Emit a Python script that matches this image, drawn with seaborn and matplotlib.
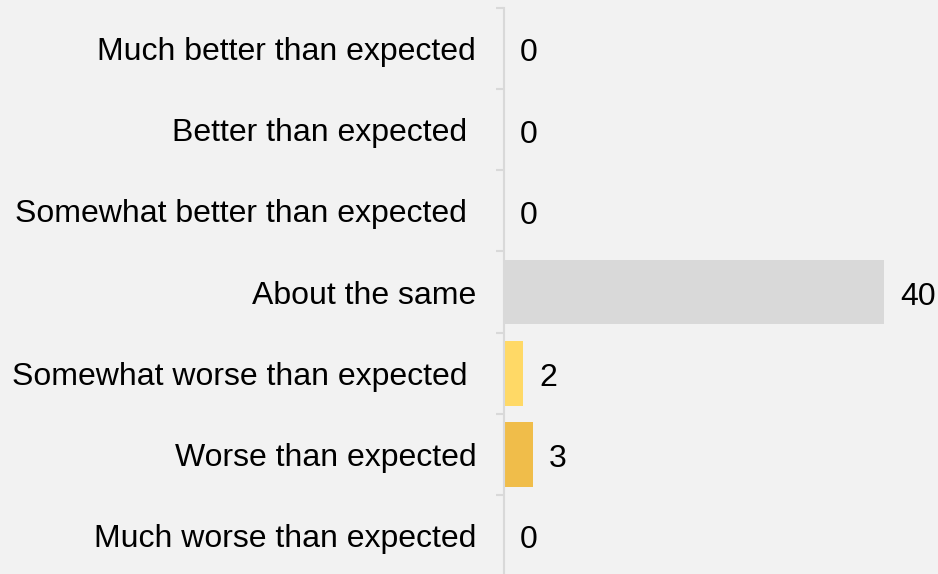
import numpy as np
import pandas as pd
import matplotlib
matplotlib.use('Agg')
import matplotlib.pyplot as plt
import seaborn as sns

# categories (trailing spaces kept as in the original labels)
categories = ['Much better than expected', 'Better than expected ',
              'Somewhat better than expected ', 'About the same',
              'Somewhat worse than expected ', 'Worse than expected',
              'Much worse than expected']
counts = [0, 0, 0, 40, 2, 3, 0]
colors = ['#d9d9d9', '#d9d9d9', '#d9d9d9', '#d9d9d9', '#ffd966', '#f0bd4a', '#f0bd4a']

df = pd.DataFrame({'label': categories, 'count': counts})

sns.set_theme(style='white')
plt.rcParams['font.family'] = ['Liberation Sans', 'DejaVu Sans']

fig = plt.figure(figsize=(9.38, 5.74), dpi=100, facecolor='#f2f2f2')
ax = fig.add_axes([504 / 938, -2 / 574, 380 / 938, 568 / 574])
ax.set_facecolor('#f2f2f2')

sns.barplot(data=df, x='count', y='label', hue='label', palette=colors,
            legend=False, orient='h', width=0.8, ax=ax, saturation=1,
            linewidth=0)

ax.set_xlim(0, 40)
ax.set_ylim(6.5, -0.5)
ax.set_xlabel('')
ax.set_ylabel('')
ax.set_xticks([])

for s in ['top', 'right', 'bottom']:
    ax.spines[s].set_visible(False)
ax.spines['left'].set_color('#d9d9d9')
ax.spines['left'].set_linewidth(1.5)

ax.tick_params(axis='y', which='major', length=0, pad=20, labelsize=23, labelcolor='black')
ax.set_yticks(np.arange(-0.5, 7, 1), minor=True)
ax.tick_params(axis='y', which='minor', left=True, length=6, width=1.5, color='#d9d9d9')

for i, v in enumerate(counts):
    ax.annotate(str(v), xy=(v, i), xytext=(11.5, -1), textcoords='offset points',
                ha='left', va='center_baseline', fontsize=23, color='black',
                annotation_clip=False)

fig.savefig('out.png', dpi=100, facecolor=fig.get_facecolor())
